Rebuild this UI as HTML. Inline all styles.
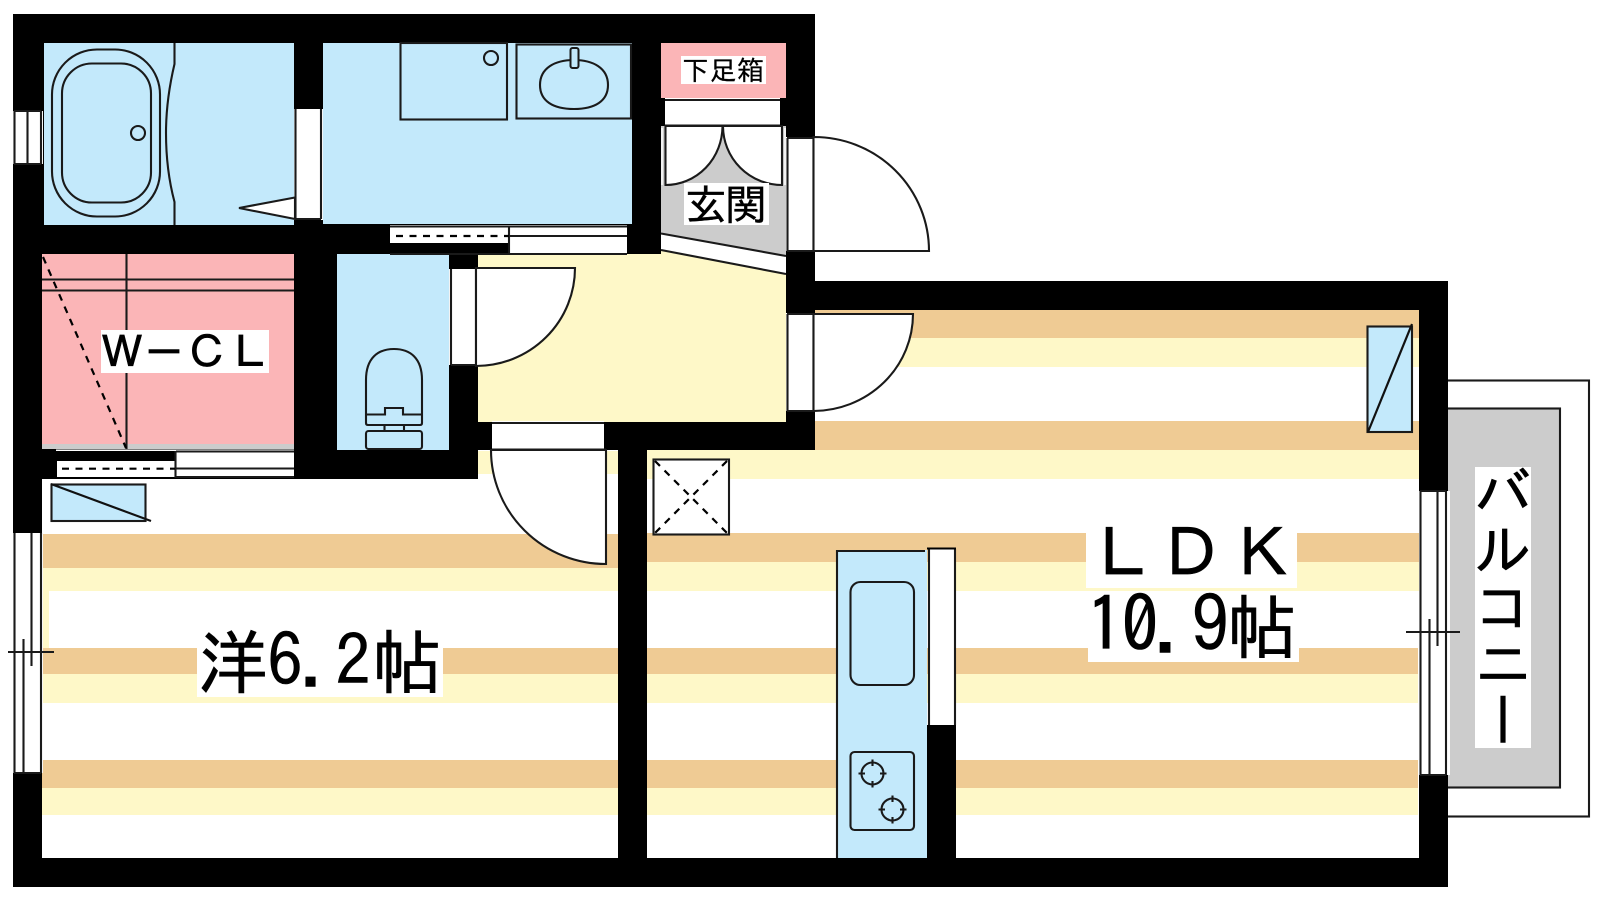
<!DOCTYPE html>
<html lang="ja"><head><meta charset="utf-8"><title>Floor plan</title>
<style>
html,body{margin:0;padding:0;background:#fff}
svg{display:block}
text{font-family:"IPAGothic","Noto Sans CJK JP",sans-serif;fill:#000;stroke:#000;stroke-width:.6}
.l{fill:none;stroke:#1a1a1a;stroke-width:2.1}
.w{fill:#fff;stroke:#1a1a1a;stroke-width:2.1}
.b{fill:#C3E9FB}.p{fill:#FBB5B7}.t{fill:#EFCB94}.y{fill:#FEF8C8}.g{fill:#CCCCCC}.f{fill:#fff}
.d{fill:none;stroke:#000;stroke-width:2.2;stroke-dasharray:7 6.5}
</style></head><body>
<svg width="1600" height="900" viewBox="0 0 1600 900" xmlns="http://www.w3.org/2000/svg">
<rect width="1600" height="900" fill="#fff"/>
<!-- balcony -->
<rect x="1440" y="380.500" width="149" height="436" class="w"/>
<rect x="1440" y="408.500" width="120" height="379" fill="#CCCCCC" stroke="#1a1a1a" stroke-width="2.100"/>
<!-- walls -->
<polygon points="13,14 815,14 815,281 1448,281 1448,887 13,887" fill="#000"/>
<!-- floors -->
<polygon points="42,479 478,479 478,450 618,450 618,858 42,858" class="f"/>
<polygon points="815,310 1419,310 1419,858 647,858 647,450 815,450" class="f"/>
<!-- left stripes -->
<rect x="478" y="451" width="140" height="23" class="y"/>
<rect x="43" y="534" width="575" height="34" class="t"/>
<rect x="43" y="568" width="575" height="23" class="y"/>
<rect x="43" y="591" width="6" height="57" class="y"/>
<rect x="42" y="648" width="576" height="26" class="t"/>
<rect x="42" y="674" width="576" height="29" class="y"/>
<rect x="42" y="760" width="576" height="28" class="t"/>
<rect x="42" y="788" width="576" height="27" class="y"/>
<!-- LDK stripes -->
<rect x="815" y="310" width="604" height="28" class="t"/>
<rect x="815" y="338" width="604" height="29" class="y"/>
<rect x="815" y="421" width="604" height="29" class="t"/>
<rect x="647" y="450" width="772" height="29" class="y"/>
<rect x="647" y="533" width="772" height="29" class="t"/>
<rect x="647" y="562" width="772" height="29" class="y"/>
<rect x="647" y="648" width="771" height="26" class="t"/>
<rect x="647" y="674" width="771" height="29" class="y"/>
<rect x="647" y="760" width="771" height="28" class="t"/>
<rect x="647" y="788" width="771" height="27" class="y"/>
<!-- rooms -->
<rect x="44" y="43" width="250" height="182" class="b"/>
<rect x="323" y="43" width="309" height="181" class="b"/>
<rect x="42" y="254" width="252" height="190" class="p"/>
<rect x="42" y="444" width="252" height="5" class="g"/>
<rect x="337" y="254" width="112" height="196" class="b"/>
<rect x="661" y="43" width="125" height="55" class="p"/>
<polygon points="661,126 786,126 786,256 661,233.500" class="g"/>
<polygon points="478,254 661,254 661,250 786,274 786,422 478,422" class="y"/>
<polygon points="661,233.500 786,256 786,274 661,250" class="f"/>
<line x1="661" y1="233.500" x2="786" y2="256" class="l"/>
<line x1="661" y1="250" x2="786" y2="274" class="l"/>
<!-- black patch door head -->
<rect x="449" y="254" width="29" height="15" fill="#000"/>
<!-- bath -->
<rect x="52" y="49.500" width="108" height="167" rx="45" ry="45" class="l"/>
<rect x="62" y="63.500" width="89" height="139" rx="30" ry="30" class="l"/>
<circle cx="138" cy="133" r="7" class="l"/>
<path d="M174.500,43V64Q166,100 166,133Q166,170 174.500,202V225" class="l"/>
<rect x="294" y="109" width="29" height="111" class="f"/>
<line x1="295.500" y1="109" x2="295.500" y2="219" class="l"/>
<line x1="321" y1="109" x2="321" y2="219" class="l"/>
<line x1="295" y1="219" x2="321" y2="219" class="l"/>
<polygon points="239,208 295,197.500 295,219" class="w"/>
<!-- bath window -->
<rect x="13" y="111" width="30" height="53" class="f"/>
<path d="M14.500,111V164M27.500,111V164M41,111V164M14,111H41M14,164H41" class="l"/>
<!-- wash -->
<rect x="400.500" y="43" width="106.500" height="76.500" class="l"/>
<circle cx="491" cy="58" r="7" class="l"/>
<rect x="516.500" y="44.500" width="114.500" height="74" class="l"/>
<path d="M540,85C540,68 555,60 574,60C593,60 608,68 608,85C608,101 595,109 574,109C553,109 540,101 540,85Z" class="l"/>
<rect x="570.500" y="48" width="8" height="20" rx="2" fill="#C3E9FB" stroke="#1a1a1a" stroke-width="2"/>
<!-- sliding door under wash -->
<rect x="390" y="225" width="119" height="18" class="f"/>
<rect x="509" y="225" width="118" height="29" class="f"/>
<rect x="390" y="253" width="237" height="2" class="f"/>
<path d="M390,226.500H627M509,236H627M390,254H627M509,226V254" class="l"/>
<line x1="396" y1="236" x2="509" y2="236" class="d"/>
<!-- shoe cupboard -->
<rect x="665" y="98" width="115" height="27" class="f"/>
<path d="M665,100H780M665,125.500H780" class="l"/>
<path d="M665.500,126V185A57,59 0 0 0 722.500,126Z" class="w"/>
<path d="M782,126V185A59,59 0 0 1 723,126Z" class="w"/>
<line x1="662" y1="128" x2="662" y2="185" stroke="#fff" stroke-width="1.500"/>
<line x1="785" y1="128" x2="785" y2="185" stroke="#fff" stroke-width="1.500"/>
<!-- entry door -->
<rect x="786" y="137" width="28" height="114" class="f"/>
<path d="M787.500,138V251M813.500,137V251M787,138H814M787,251H814" class="l"/>
<path d="M813.500,137A115,114 0 0 1 929,251H813.500Z" class="w"/>
<!-- LDK door -->
<rect x="786" y="313" width="28" height="98" class="f"/>
<path d="M787.500,314V411M813.500,314V411M787,314H814M787,411H814" class="l"/>
<path d="M813.500,314H913A100,97 0 0 1 813.500,411Z" class="w"/>
<!-- toilet door -->
<rect x="449" y="269" width="29" height="96" class="f"/>
<path d="M451,269V365M476,267V365M451,365H476" class="l"/>
<path d="M476,268H575A99,98 0 0 1 476,366Z" class="w"/>
<!-- toilet -->
<path d="M366,416V380C366,358 378,349 394,349C410,349 422,358 422,380V416V423Q422,425 420,425H368Q366,425 366,423Z" class="l"/>
<path d="M366,414.500H385V408H403V414.500H422M384.500,425V431M404,425V431" class="l"/>
<rect x="366" y="431" width="56" height="18" rx="2.500" class="l"/>
<!-- W-CL interior -->
<path d="M126.500,254V449M42,279.500H294M42,290.500H294" class="l"/>
<line x1="43" y1="257" x2="126" y2="448" class="d"/>
<rect x="56" y="449.500" width="238" height="1.500" fill="#fff"/>
<rect x="57" y="461" width="119" height="16" class="f"/>
<rect x="176" y="451" width="118" height="26" class="f"/>
<path d="M176,451.500H294M176,468.500H294M176,477H294M175.500,451V478" class="l"/>
<line x1="62" y1="468.700" x2="175" y2="468.700" class="d"/>
<!-- hall door to western room -->
<rect x="492" y="421" width="112" height="29" class="f"/>
<path d="M492,423H604M492,449.500H606" class="l"/>
<path d="M606,450V564A115,114 0 0 1 491,450Z" class="w"/>
<!-- left equipment -->
<rect x="51.500" y="484.500" width="94" height="36.500" class="b" stroke="#1a1a1a" stroke-width="2.100"/>
<line x1="51" y1="484" x2="151" y2="521" stroke="#111" stroke-width="2.200"/>
<!-- left window -->
<rect x="13" y="533" width="30" height="240" class="f"/>
<path d="M14.500,533V773M41,533V773M31.500,533V666M23.500,639V773M14,773H41" class="l"/>
<line x1="8" y1="652" x2="54" y2="652" class="l"/>
<!-- vent box -->
<rect x="653.500" y="459.500" width="75.500" height="75" class="w"/>
<path d="M655,461L727,533M727,461L655,533" class="d"/>
<!-- kitchen -->
<rect x="836" y="550" width="91" height="308" class="b"/>
<path d="M837,858V551H925" class="l"/>
<rect x="850.500" y="582" width="63.500" height="103" rx="10" class="l"/>
<rect x="850.500" y="752" width="63.500" height="78" rx="4" class="l"/>
<g class="l">
<circle cx="872.500" cy="773.500" r="11"/>
<path d="M872.500,759.500V766M872.500,781V787.500M858.500,773.500H865M880,773.500H886.500"/>
<circle cx="892.500" cy="809.500" r="11"/>
<path d="M892.500,795.500V802M892.500,817V823.500M878.500,809.500H885M900,809.500H906.500"/>
</g>
<rect x="928" y="548" width="28" height="177" class="f"/>
<path d="M929,549V725M955,549V725" class="l"/>
<line x1="927" y1="548.500" x2="956" y2="548.500" stroke="#000" stroke-width="2"/>
<rect x="927" y="725" width="29" height="133" fill="#000"/>
<!-- right equipment -->
<rect x="1367.500" y="326.500" width="44.500" height="105.500" class="b" stroke="#1a1a1a" stroke-width="2.100"/>
<line x1="1368" y1="432" x2="1412" y2="324" stroke="#111" stroke-width="2.200"/>
<!-- right window -->
<rect x="1419" y="491" width="31" height="284" class="f"/>
<path d="M1420.500,491V775M1446,491V775M1437.500,491V646M1429.500,619V775M1420,491H1446M1420,775H1446" class="l"/>
<line x1="1406" y1="632" x2="1460" y2="632" class="l"/>
<!-- labels -->
<rect x="681" y="56" width="85" height="28" class="f"/>
<text x="682" y="80" font-size="27" textLength="82" style="stroke-width:.3">下足箱</text>
<rect x="684" y="183" width="85" height="42" class="f"/>
<text x="685" y="220" font-size="42" textLength="82" style="stroke-width:.4">玄関</text>
<rect x="101" y="330" width="168" height="43" class="f"/>
<text x="122" y="368" font-size="44" text-anchor="middle">Ｗ</text>
<text x="164" y="368" font-size="44" text-anchor="middle">－</text>
<text x="207" y="368" font-size="44" text-anchor="middle">Ｃ</text>
<text x="250" y="368" font-size="44" text-anchor="middle">Ｌ</text>
<rect x="49" y="591" width="569" height="57" class="f"/>
<rect x="197" y="630" width="246" height="67" class="f"/>
<g text-anchor="middle">
<text x="233" y="688" font-size="70">洋</text>
<text x="285" y="686" font-size="71">6</text>
<text x="317" y="686" font-size="71">.</text>
<text x="353" y="686" font-size="70">2</text>
<text x="407" y="688" font-size="70">帖</text>
</g>
<rect x="1086" y="525" width="211" height="63" class="f"/>
<rect x="1088" y="591" width="211" height="71" class="f"/>
<g font-size="67" text-anchor="middle">
<text x="1123" y="577.500">Ｌ</text>
<text x="1191" y="577.500">Ｄ</text>
<text x="1263" y="577.500">Ｋ</text>
</g>
<g text-anchor="middle">
<text x="1105" y="652" font-size="76">1</text>
<text x="1140" y="652" font-size="76">0</text>
<text x="1172" y="652" font-size="76">.</text>
<text x="1210" y="652" font-size="76">9</text>
<text x="1262" y="653" font-size="70">帖</text>
</g>
<rect x="1475" y="467" width="56" height="281" class="f"/>
<text x="1503" y="463" font-size="57" style="writing-mode:vertical-rl;text-orientation:upright">バルコニー</text>
</svg>
</body></html>
